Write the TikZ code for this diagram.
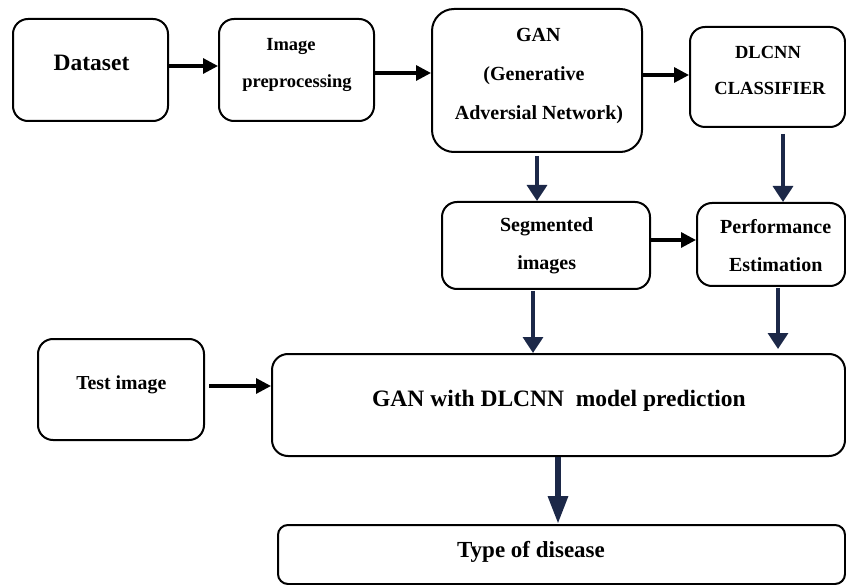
\documentclass[tikz,border=0pt]{standalone}
\usepackage{fontspec}
\setmainfont{Liberation Serif}
\usetikzlibrary{arrows.meta}
\definecolor{navy}{RGB}{28,40,72}
\begin{document}
\begin{tikzpicture}[x=1pt,y=-1pt,
  box/.style={draw, line width=2pt, rounded corners=#1, inner sep=0pt},
  lbl/.style={anchor=base, inner sep=0pt, font=\bfseries\fontsize{#1}{#1}\selectfont},
  harrow/.style={draw=black, line width=3.2pt, -{Triangle[length=15pt,width=15pt]}},
  varrow/.style={draw=navy, line width=3.4pt, -{Triangle[length=16pt,width=20pt]}},
  bigarrow/.style={draw=navy, line width=6pt, -{Triangle[length=28pt,width=19pt]}}]
\useasboundingbox (0,0) rectangle (846,585);
% boxes
\node[box=15pt, minimum width=155pt, minimum height=102pt] (ds) at (90.5,70) {};
\node[box=15pt, minimum width=155pt, minimum height=102pt] (ip) at (296.5,70) {};
\node[box=22pt, minimum width=210pt, minimum height=143pt] (gan) at (537,80.5) {};
\node[box=15pt, minimum width=155pt, minimum height=100pt] (dl) at (767.5,77) {};
\node[box=15pt, minimum width=208pt, minimum height=87pt] (seg) at (546,245.5) {};
\node[box=15pt, minimum width=148pt, minimum height=83pt] (perf) at (771,244.5) {};
\node[box=15pt, minimum width=166pt, minimum height=101pt] (test) at (121,389.5) {};
\node[box=16pt, minimum width=573pt, minimum height=102pt] (pred) at (558.5,405) {};
\node[box=10pt, minimum width=567pt, minimum height=59pt] (type) at (561.5,554.5) {};
% texts
\node[lbl=23.5] (tds) at (91.5,71) {Dataset};
\node[lbl=18.5] (tip1) at (291,50.5) {Image};
\node[lbl=18.5] (tip2) at (297,87.5) {preprocessing};
\node[lbl=20] (tgan1) at (538.3,41.7) {GAN};
\node[lbl=20] (tgan2) at (534,81) {(Generative};
\node[lbl=20] (tgan3) at (539,119.3) {Adversial Network)};
\node[lbl=18.5] (tdl1) at (768,58.3) {DLCNN};
\node[lbl=18.5] (tdl2) at (770,95) {CLASSIFIER};
\node[lbl=20] (tseg1) at (546.7,231.7) {Segmented};
\node[lbl=20] (tseg2) at (546.7,270) {images};
\node[lbl=20] (tperf1) at (775.7,233.3) {Performance};
\node[lbl=20] (tperf2) at (775.7,271.7) {Estimation};
\node[lbl=19.8] (ttest) at (121.3,389) {Test image};
\node[lbl=23.5] (tpred) at (559,406) {GAN with DLCNN\ \ model prediction};
\node[lbl=23] (ttype) at (531,557) {Type of disease};
% connectors
\draw[harrow] (ds.east |- 0,66) -- (ip.west |- 0,66);
\draw[harrow] (ip.east |- 0,73) -- (gan.west |- 0,73);
\draw[harrow] (gan.east |- 0,75) -- (dl.west |- 0,75);
\draw[harrow] (seg.east |- 0,240) -- (perf.west |- 0,240);
\draw[harrow, shorten <=4pt] (test.east |- 0,386) -- (pred.west |- 0,386);
\draw[varrow, shorten <=3pt] (gan.south -| 537,0) -- (seg.north -| 537,0);
\draw[varrow, shorten <=6pt] (dl.south -| 783,0) -- (perf.north -| 783,0);
\draw[varrow, shorten <=1pt] (seg.south -| 533,0) -- (pred.north -| 533,0);
\draw[varrow, shorten <=1pt, shorten >=4pt] (perf.south -| 778,0) -- (pred.north -| 778,0);
\draw[bigarrow] (pred.south -| 558,0) -- (type.north -| 558,0);
\end{tikzpicture}
\end{document}
